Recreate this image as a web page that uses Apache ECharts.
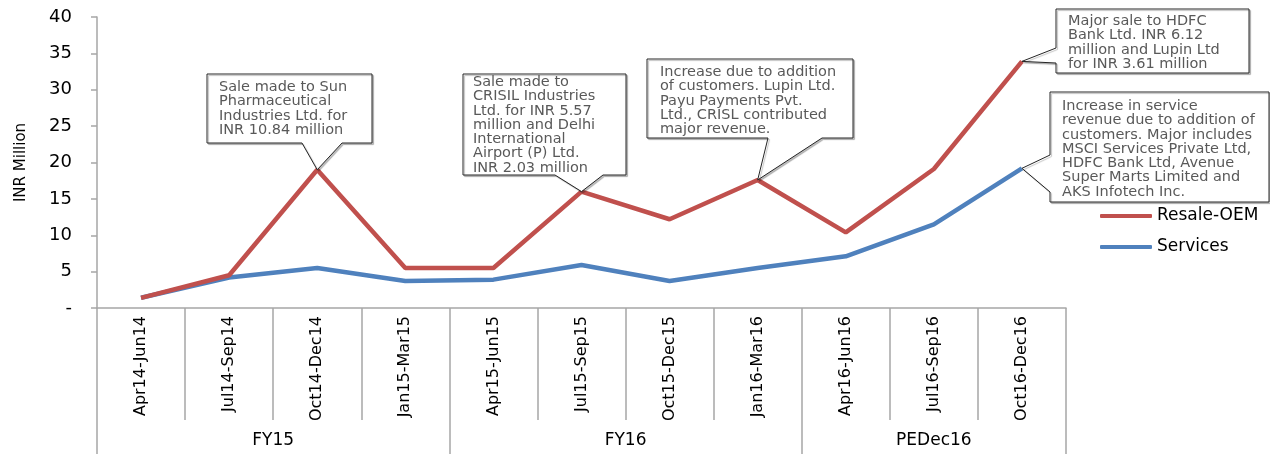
<!DOCTYPE html>
<html><head><meta charset="utf-8">
<script src="https://cdn.jsdelivr.net/npm/echarts@6/dist/echarts.min.js"></script>
<style>html,body{margin:0;padding:0;background:#fff}#c{width:1270px;height:454px}</style>
</head><body><div id="c"></div>
<script>
// ---- data ----
const categories = ['Apr14-Jun14','Jul14-Sep14','Oct14-Dec14','Jan15-Mar15','Apr15-Jun15','Jul15-Sep15','Oct15-Dec15','Jan16-Mar16','Apr16-Jun16','Jul16-Sep16','Oct16-Dec16'];
const resaleOEM = [1.4, 4.5, 19.0, 5.5, 5.5, 16.0, 12.2, 17.6, 10.4, 19.1, 33.9];
const services  = [1.4, 4.2, 5.5, 3.7, 3.9, 5.9, 3.7, 5.5, 7.1, 11.5, 19.2];
const groupNames = ['FY15', 'FY16', 'PEDec16'];
const groupSizes = [4, 4, 3];
const seriesNames = ['Resale-OEM', 'Services'];

// annotation texts (which point they refer to)
const noteSeries = [0, 0, 0, 0, 1];
const noteIndex  = [2, 5, 7, 10, 10];
const noteTexts = [
  ['Sale made to Sun', 'Pharmaceutical', 'Industries Ltd. for', 'INR 10.84 million'],
  ['Sale made to', 'CRISIL Industries', 'Ltd. for INR 5.57', 'million and Delhi', 'International', 'Airport (P) Ltd.', 'INR 2.03 million'],
  ['Increase due to addition', 'of customers. Lupin Ltd.', 'Payu Payments Pvt.', 'Ltd., CRISL contributed', 'major revenue.'],
  ['Major sale to HDFC', 'Bank Ltd. INR 6.12', 'million and Lupin Ltd', 'for INR 3.61 million'],
  ['Increase in service', 'revenue due to addition of', 'customers. Major includes', 'MSCI Services Private Ltd,', 'HDFC Bank Ltd, Avenue', 'Super Marts Limited and', 'AKS Infotech Inc.']
];

// ---- layout of callout boxes (pixels) ----
const noteLayout = [
  {box:[207, 74, 372, 143], side:'bottom', base:[302, 342], tx:219, ty:80},
  {box:[463, 74, 626, 175], side:'bottom', base:[555, 603], tx:473, ty:75},
  {box:[647, 59, 853, 138], side:'bottom', base:[768, 822], tx:660, ty:65},
  {box:[1056, 9, 1249, 73], side:'left', base:[48, 63], tx:1068, ty:14},
  {box:[1050, 92, 1269, 202], side:'left', base:[155, 192], tx:1062, ty:99}
];

const boundaries = [0];
groupSizes.forEach(s => boundaries.push(boundaries[boundaries.length - 1] + s));
const centers = groupSizes.map((s, i) => boundaries[i] + s / 2);

const axisGray = '#A6A6A6';
const chart = echarts.init(document.getElementById('c'), null, {renderer: 'canvas'});
chart.setOption({
  animation: false,
  backgroundColor: '#fff',
  grid: {left: 97, right: 204, top: 17, bottom: 146, containLabel: false},
  legend: {
    data: seriesNames,
    orient: 'vertical',
    left: 1095, top: 201,
    icon: 'roundRect',
    itemWidth: 52, itemHeight: 4, itemGap: 11,
    textStyle: {fontFamily: 'DejaVu Sans', fontSize: 17, color: '#000', lineHeight: 20}
  },
  xAxis: [
    {
      type: 'category', data: categories, boundaryGap: true,
      axisLine: {lineStyle: {color: axisGray, width: 1.5}},
      axisTick: {show: true, interval: 0, length: 112, lineStyle: {color: axisGray, width: 1.5}},
      axisLabel: {interval: 0, rotate: 90, margin: 8, fontFamily: 'DejaVu Sans', fontSize: 16, color: '#000'},
      splitLine: {show: false}
    },
    {
      type: 'value', min: 0, max: categories.length, position: 'bottom',
      axisLine: {show: false},
      axisTick: {show: true, customValues: boundaries, length: 146, lineStyle: {color: axisGray, width: 1.5}},
      axisLabel: {
        customValues: centers, margin: 124,
        fontFamily: 'DejaVu Sans', fontSize: 17, color: '#000',
        formatter: v => { const i = centers.indexOf(v); return i >= 0 ? groupNames[i] : ''; }
      },
      splitLine: {show: false}
    }
  ],
  yAxis: {
    type: 'value', min: 0, max: 40, interval: 5,
    name: 'INR Million', nameLocation: 'middle', nameGap: 68, nameRotate: 90,
    nameTextStyle: {fontFamily: 'DejaVu Sans', fontSize: 15, color: '#000'},
    axisLine: {show: true, lineStyle: {color: axisGray, width: 1.5}},
    axisTick: {show: true, length: 6, lineStyle: {color: axisGray, width: 1.5}},
    axisLabel: {margin: 25, fontFamily: 'DejaVu Sans', fontSize: 18, color: '#000',
      formatter: v => v === 0 ? '-' : String(v)},
    splitLine: {show: false}
  },
  series: [
    {name: seriesNames[0], type: 'line', data: resaleOEM, symbol: 'none', z: 4,
      lineStyle: {color: '#C0504D', width: 4.5}, itemStyle: {color: '#C0504D'}},
    {name: seriesNames[1], type: 'line', data: services, symbol: 'none', z: 3,
      lineStyle: {color: '#4F81BD', width: 4.5}, itemStyle: {color: '#4F81BD'}}
  ]
});

const seriesData = [resaleOEM, services];
const graphics = [];
noteTexts.forEach((lines, k) => {
  const L = noteLayout[k];
  const tip = chart.convertToPixel({seriesIndex: noteSeries[k]}, [noteIndex[k], seriesData[noteSeries[k]][noteIndex[k]]]);
  const [x1, y1, x2, y2] = L.box;
  let pts;
  if (L.side === 'bottom') {
    pts = [[x1,y1],[x2,y1],[x2,y2],[L.base[1],y2],tip,[L.base[0],y2],[x1,y2]];
  } else {
    pts = [[x1,y1],[x2,y1],[x2,y2],[x1,y2],[x1,L.base[1]],tip,[x1,L.base[0]]];
  }
  graphics.push({
    type: 'polygon', z: 100,
    shape: {points: pts},
    style: {fill: '#fff', stroke: '#262626', lineWidth: 1,
      shadowColor: 'rgba(0,0,0,0.25)', shadowBlur: 1, shadowOffsetX: 1.5, shadowOffsetY: 1.5}
  });
  graphics.push({
    type: 'text', z: 101, x: L.tx, y: L.ty,
    style: {text: lines.join('\n'), fill: '#595959', fontFamily: 'DejaVu Sans', fontSize: 14.5, lineHeight: 14.3, verticalAlign: 'top', align: 'left'}
  });
});
chart.setOption({graphic: graphics});
</script>
</body></html>
